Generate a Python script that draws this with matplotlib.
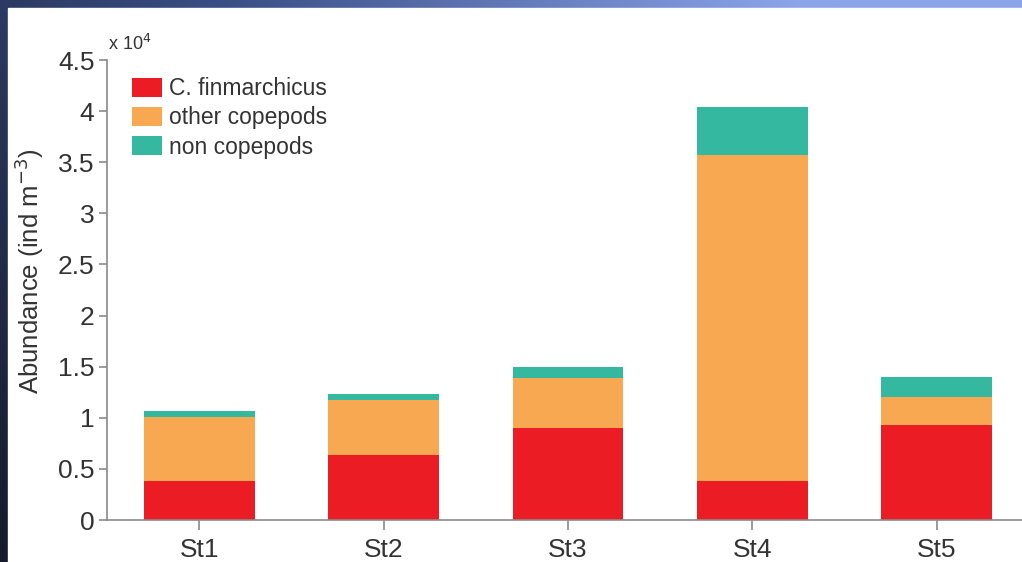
import numpy as np
import matplotlib
matplotlib.use('Agg')
import matplotlib.pyplot as plt
from matplotlib.patches import Rectangle
from matplotlib.colors import LinearSegmentedColormap

plt.rcParams['font.family'] = ['Liberation Sans', 'DejaVu Sans']

# abundance in ind m^-3
stations = ['St1', 'St2', 'St3', 'St4', 'St5']
c_finmarchicus = [3800, 6400, 9000, 3800, 9300]
other_copepods = [6300, 5300, 4900, 31900, 2700]
non_copepods = [600, 600, 1100, 4700, 2000]

col_red = '#ec1c24'
col_orange = '#f9a852'
col_teal = '#35b8a0'
axis_gray = '#8a8a8a'
text_gray = '#333333'

fig = plt.figure(figsize=(10.22, 5.62), dpi=100)

# slide background behind the white panel
bg = fig.add_axes([0, 0, 1, 1])
xx = np.linspace(0, 1, 300)
yy = np.linspace(0, 1, 200)
X, Y = np.meshgrid(xx, yy)
shade = np.clip(X * 0.9 + (1 - Y) * 0.3, 0, 1)
cmap = LinearSegmentedColormap.from_list('slide', ['#151b2c', '#3a4f86', '#8ba4ea'])
bg.imshow(shade, cmap=cmap, aspect='auto', extent=[0, 1, 0, 1], origin='upper')
bg.add_patch(Rectangle((8 / 1022, 0), 1, 1 - 8 / 562, color='white', zorder=2))
bg.set_xlim(0, 1)
bg.set_ylim(0, 1)
bg.axis('off')

ax = fig.add_axes([107 / 1022, 1 - 520 / 562, 922 / 1022, 460 / 562])
ax.patch.set_alpha(0)

x = np.arange(len(stations))
w = 0.6
b1 = np.array(c_finmarchicus)
b2 = b1 + np.array(other_copepods)
ax.bar(x, c_finmarchicus, w, color=col_red, label='C. finmarchicus')
ax.bar(x, other_copepods, w, bottom=b1, color=col_orange, label='other copepods')
ax.bar(x, non_copepods, w, bottom=b2, color=col_teal, label='non copepods')

ax.set_xlim(-0.5, 4.5)
ax.set_ylim(0, 45000)
yt = np.arange(0, 45001, 5000)
ax.set_yticks(yt)
ax.set_yticklabels(['%g' % (v / 1e4) for v in yt])
ax.set_xticks(x)
ax.set_xticklabels(stations)

for s in ['top', 'right']:
    ax.spines[s].set_visible(False)
for s in ['left', 'bottom']:
    ax.spines[s].set_color(axis_gray)
    ax.spines[s].set_linewidth(1.2)
ax.tick_params(direction='out', length=6, width=1.2, color=axis_gray,
               labelcolor=text_gray, labelsize=19, pad=3)
ax.tick_params(axis='x', length=7, pad=6)

ax.set_ylabel('Abundance (ind m$^{-3}$)', fontsize=18.5, color=text_gray)
ax.yaxis.set_label_coords(-0.066, 0.54)
fig.text(108 / 1022, 1 - 50 / 562, r'x 10$^4$', fontsize=13, color=text_gray,
         ha='left', va='baseline')

ax.legend(loc='upper left', bbox_to_anchor=(25 / 922, 1 - 17 / 460), frameon=False,
          fontsize=16.5, handlelength=1.3, handleheight=0.9, handletextpad=0.3,
          labelspacing=0.28, borderaxespad=0, borderpad=0, labelcolor=text_gray)

fig.savefig('out.png', dpi=100)
